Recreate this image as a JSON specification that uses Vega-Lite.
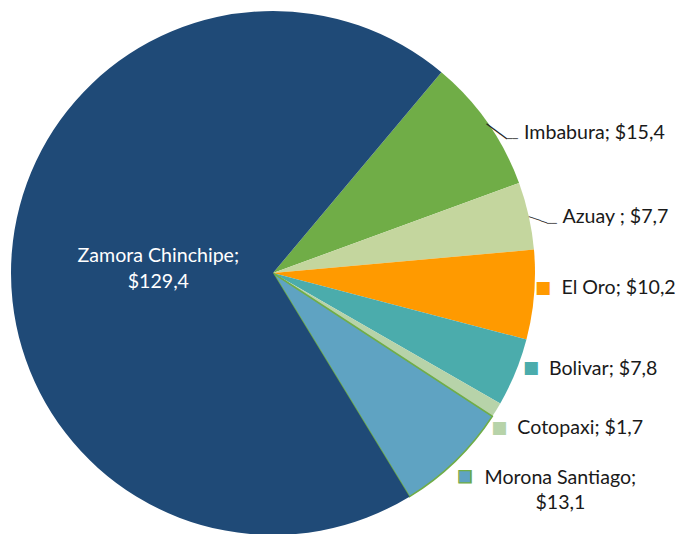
{
  "$schema": "https://vega.github.io/schema/vega-lite/v6.json",
  "width": 546,
  "height": 522,
  "autosize": {"type": "none"},
  "padding": {"left": 0, "top": 12, "right": 129, "bottom": 0},
  "background": "white",
  "config": {"view": {"stroke": null}},
  "data": {
    "values": [
      {"i": 1, "cat": "Imbabura", "value": 15.4, "label": "Imbabura; $15,4"},
      {"i": 2, "cat": "Azuay", "value": 7.7, "label": "Azuay ; $7,7"},
      {"i": 3, "cat": "El Oro", "value": 10.2, "label": "El Oro; $10,2"},
      {"i": 4, "cat": "Bolivar", "value": 7.8, "label": "Bolivar; $7,8"},
      {"i": 5, "cat": "Cotopaxi", "value": 1.7, "label": "Cotopaxi; $1,7"},
      {"i": 6, "cat": "Morona Santiago", "value": 13.1, "label": "Morona Santiago;\n$13,1"},
      {"i": 7, "cat": "Zamora Chinchipe", "value": 129.4, "label": "Zamora Chinchipe;\n$129,4"}
    ]
  },
  "encoding": {
    "theta": {"field": "value", "type": "quantitative", "stack": true, "scale": {"range": [0.6981, 6.9813]}},
    "order": {"field": "i", "type": "quantitative"},
    "color": {
      "field": "cat", "type": "nominal", "legend": null,
      "scale": {
        "domain": ["Imbabura", "Azuay", "El Oro", "Bolivar", "Cotopaxi", "Morona Santiago", "Zamora Chinchipe"],
        "range": ["#70AD47", "#C4D69E", "#FF9A00", "#4BACAC", "#B7D3A9", "#5FA3C2", "#1F4A77"]
      }
    }
  },
  "layer": [
    {
      "mark": {"type": "arc", "outerRadius": 262, "stroke": "#70AD47"},
      "encoding": {
        "strokeWidth": {"condition": {"test": "datum.cat === 'Morona Santiago'", "value": 1.5}, "value": 0}
      }
    },
    {
      "mark": {"type": "text", "radius": 118, "align": "center", "baseline": "alphabetic", "font": "Lato", "fontSize": 19.6, "lineHeight": 26, "lineBreak": "\n", "dx": 3, "dy": -1.85, "color": "white"},
      "encoding": {"color": {"value": "white"}, "text": {"condition": {"test": "datum.cat === 'Zamora Chinchipe'", "field": "label"}, "value": ""}}
    },
    {
      "mark": {"type": "text", "radius": 270, "align": "left", "baseline": "alphabetic", "font": "Lato", "fontSize": 19.6, "dx": 29.9, "dy": 21.3},
      "encoding": {"color": {"value": "#1A1A1A"}, "text": {"condition": {"test": "datum.cat === 'Imbabura'", "field": "label"}, "value": ""}}
    },
    {
      "mark": {"type": "text", "radius": 270, "align": "left", "baseline": "alphabetic", "font": "Lato", "fontSize": 19.6, "dx": 26.0, "dy": 9.2},
      "encoding": {"color": {"value": "#1A1A1A"}, "text": {"condition": {"test": "datum.cat === 'Azuay'", "field": "label"}, "value": ""}}
    },
    {
      "mark": {"type": "text", "radius": 270, "align": "left", "baseline": "alphabetic", "font": "Lato", "fontSize": 19.6, "dx": 19.4, "dy": -1.2},
      "encoding": {"color": {"value": "#1A1A1A"}, "text": {"condition": {"test": "datum.cat === 'El Oro'", "field": "label"}, "value": ""}}
    },
    {
      "mark": {"type": "text", "radius": 270, "align": "left", "baseline": "alphabetic", "font": "Lato", "fontSize": 19.6, "dx": 26.1, "dy": 0},
      "encoding": {"color": {"value": "#1A1A1A"}, "text": {"condition": {"test": "datum.cat === 'Bolivar'", "field": "label"}, "value": ""}}
    },
    {
      "mark": {"type": "text", "radius": 270, "align": "left", "baseline": "alphabetic", "font": "Lato", "fontSize": 19.6, "dx": 14.1, "dy": 20.2},
      "encoding": {"color": {"value": "#1A1A1A"}, "text": {"condition": {"test": "datum.cat === 'Cotopaxi'", "field": "label"}, "value": ""}}
    },
    {
      "mark": {"type": "text", "radius": 270, "align": "center", "baseline": "alphabetic", "font": "Lato", "fontSize": 19.6, "lineHeight": 25.3, "lineBreak": "\n", "dx": 99.4, "dy": 17.3},
      "encoding": {"color": {"value": "#1A1A1A"}, "text": {"condition": {"test": "datum.cat === 'Morona Santiago'", "field": "label"}, "value": ""}}
    },
    {
      "mark": {"type": "text", "radius": 270, "align": "center", "baseline": "middle", "font": "DejaVu Sans", "fontSize": 17, "dx": 0.94, "dy": -7.73},
      "encoding": {"text": {"condition": {"test": "datum.cat === 'El Oro'", "value": "■"}, "value": ""}}
    },
    {
      "mark": {"type": "text", "radius": 270, "align": "center", "baseline": "middle", "font": "DejaVu Sans", "fontSize": 17, "dx": 8.14, "dy": -7.64},
      "encoding": {"text": {"condition": {"test": "datum.cat === 'Bolivar'", "value": "■"}, "value": ""}}
    },
    {
      "mark": {"type": "text", "radius": 270, "align": "center", "baseline": "middle", "font": "DejaVu Sans", "fontSize": 17, "dx": -3.91, "dy": 14.22},
      "encoding": {"text": {"condition": {"test": "datum.cat === 'Cotopaxi'", "value": "■"}, "value": ""}}
    },
    {
      "mark": {"type": "text", "radius": 270, "align": "center", "baseline": "middle", "font": "DejaVu Sans", "fontSize": 16, "dx": 3.92, "dy": 9.28, "stroke": "#70AD47", "strokeWidth": 1.3},
      "encoding": {"text": {"condition": {"test": "datum.cat === 'Morona Santiago'", "value": "■"}, "value": ""}}
    },
    {
      "mark": {"type": "text", "radius": 270, "align": "center", "baseline": "middle", "font": "DejaVu Sans", "fontSize": 14, "angle": 36.46, "dx": 10.2, "dy": 10.04},
      "encoding": {"color": {"value": "#262626"}, "text": {"condition": {"test": "datum.cat === 'Imbabura'", "value": "───"}, "value": ""}}
    },
    {
      "mark": {"type": "text", "radius": 270, "align": "center", "baseline": "middle", "font": "DejaVu Sans", "fontSize": 9, "dx": 18.39, "dy": 21.07},
      "encoding": {"color": {"value": "#262626"}, "text": {"condition": {"test": "datum.cat === 'Imbabura'", "value": "──"}, "value": ""}}
    },
    {
      "mark": {"type": "text", "radius": 270, "align": "center", "baseline": "middle", "font": "DejaVu Sans", "fontSize": 10.5, "angle": 18.72, "dx": 3.08, "dy": 5.51},
      "encoding": {"color": {"value": "#262626"}, "text": {"condition": {"test": "datum.cat === 'Azuay'", "value": "───"}, "value": ""}}
    },
    {
      "mark": {"type": "text", "radius": 270, "align": "center", "baseline": "middle", "font": "DejaVu Sans", "fontSize": 8.5, "dx": 15.35, "dy": 8.55},
      "encoding": {"color": {"value": "#262626"}, "text": {"condition": {"test": "datum.cat === 'Azuay'", "value": "──"}, "value": ""}}
    }
  ]
}
